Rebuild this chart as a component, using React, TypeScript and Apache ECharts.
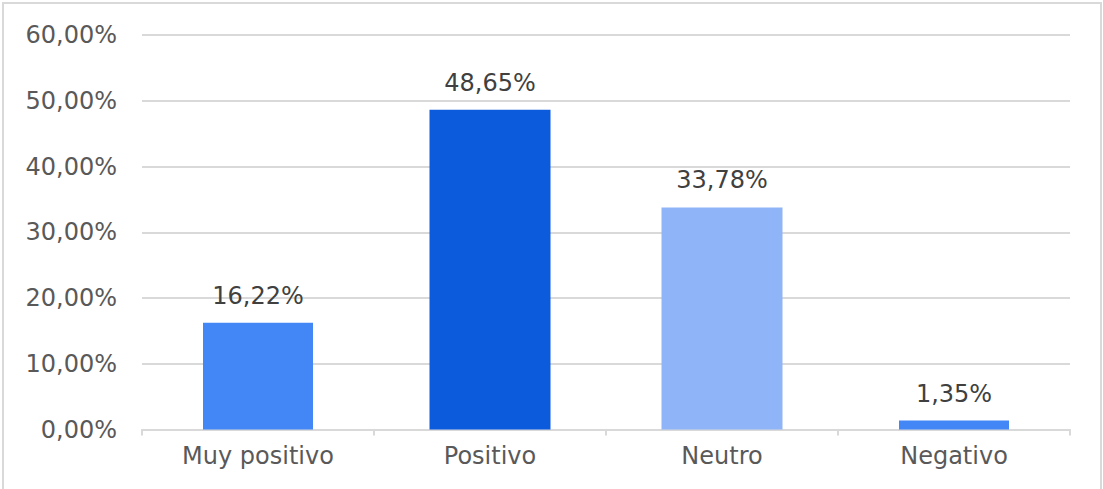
import React, { useEffect, useRef } from "react";
import * as echarts from "echarts";

const categories = ["Muy positivo", "Positivo", "Neutro", "Negativo"];
const values = [16.22, 48.65, 33.78, 1.35];
const barColors = ["#4386F5", "#0D5BDD", "#8FB5F8", "#4386F5"];
const wideBars = [false, true, true, false];
const yTicks = [0, 10, 20, 30, 40, 50, 60];

const fmt = (v: number) => v.toFixed(2).replace(".", ",") + "%";

export default function App() {
  const ref = useRef<HTMLDivElement>(null);
  useEffect(() => {
    if (!ref.current) return;
    const chart = echarts.init(ref.current, undefined, { renderer: "svg" });
    const font = "'DejaVu Sans', sans-serif";
    const label = {
      show: true,
      position: "top",
      distance: 15,
      color: "#404040",
      fontSize: 24,
      fontFamily: font,
      formatter: (p: any) => fmt(p.value),
    };
    const mk = (wide: boolean) =>
      values.map((v, i) =>
        wideBars[i] === wide ? { value: v, itemStyle: { color: barColors[i] } } : null
      );
    chart.setOption({
      animation: false,
      backgroundColor: "#ffffff",
      textStyle: { fontFamily: font },
      grid: { left: 142, right: 33, top: 35, bottom: 59.5, containLabel: false },
      xAxis: [
        {
          type: "category",
          data: categories,
          axisLine: { lineStyle: { color: "#d9d9d9", width: 2 } },
          axisTick: { show: true, length: 6, lineStyle: { color: "#d9d9d9", width: 2 } },
          axisLabel: { color: "#595959", fontSize: 24, margin: 14, fontFamily: font },
        },
        {
          type: "category",
          data: categories,
          show: false,
        },
      ],
      yAxis: {
        type: "value",
        min: yTicks[0],
        max: yTicks[yTicks.length - 1],
        interval: 10,
        axisLine: { show: false },
        axisTick: { show: false },
        splitLine: { lineStyle: { color: "#d9d9d9", width: 2 } },
        axisLabel: {
          color: "#595959",
          fontSize: 24,
          margin: 25,
          fontFamily: font,
          formatter: (v: number) => fmt(v),
        },
      },
      graphic: [
        {
          type: "rect",
          shape: { x: 3, y: 3, width: 1098, height: 510 },
          style: { fill: "none", stroke: "#d9d9d9", lineWidth: 2 },
          z: 100,
        },
      ],
      series: [
        {
          type: "bar",
          xAxisIndex: 0,
          barWidth: 110,
          data: mk(false),
          label,
        },
        {
          type: "bar",
          xAxisIndex: 1,
          barWidth: 121,
          data: mk(true),
          label,
        },
      ],
    });
    return () => chart.dispose();
  }, []);
  return (
    <div
      ref={ref}
      style={{ position: "fixed", left: 0, top: 0, width: 1103, height: 489 }}
    />
  );
}
